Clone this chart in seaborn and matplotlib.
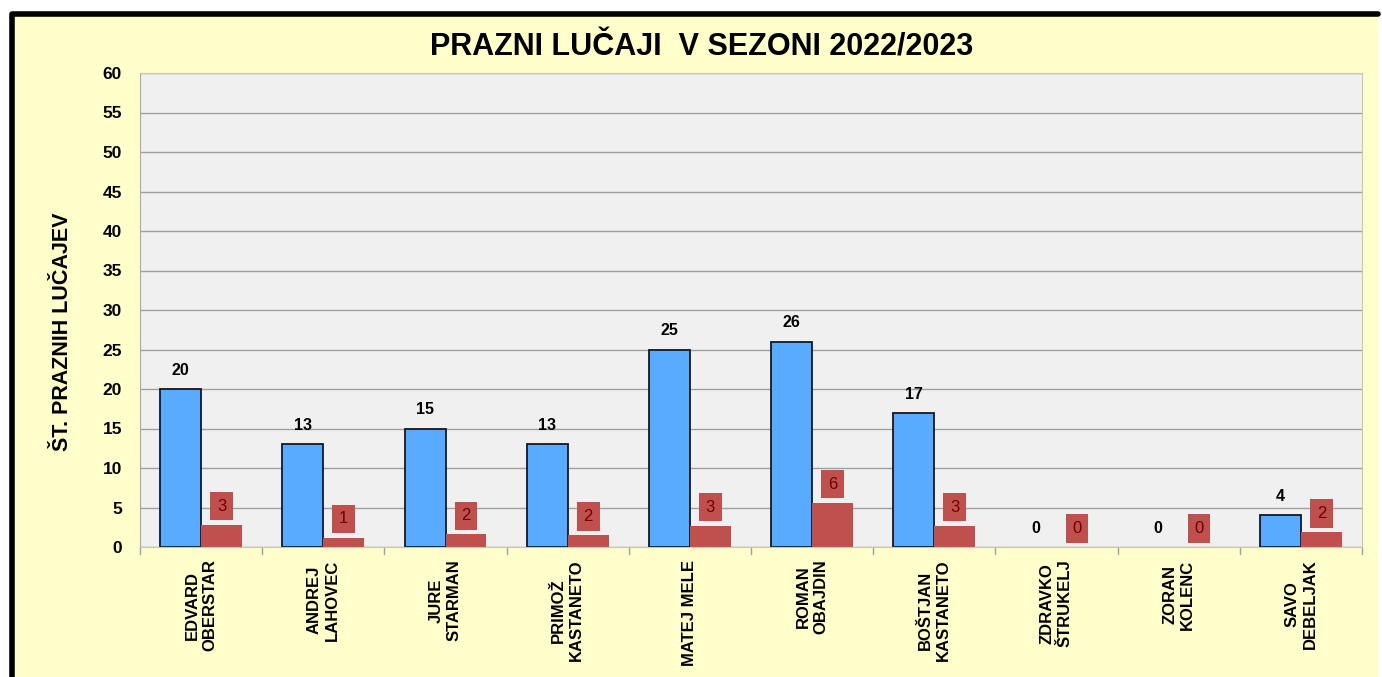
import matplotlib

matplotlib.use("Agg")

import matplotlib.pyplot as plt
import pandas as pd
import seaborn as sns
from matplotlib.patches import Rectangle

players = [
    "EDVARD\nOBERSTAR",
    "ANDREJ\nLAHOVEC",
    "JURE\nSTARMAN",
    "PRIMOŽ\nKASTANETO",
    "MATEJ MELE",
    "ROMAN\nOBAJDIN",
    "BOŠTJAN\nKASTANETO",
    "ZDRAVKO\nŠTRUKELJ",
    "ZORAN\nKOLENC",
    "SAVO\nDEBELJAK",
]
empty_throws = [20, 13, 15, 13, 25, 26, 17, 0, 0, 4]
empty_per_game = [2.8, 1.2, 1.6, 1.5, 2.7, 5.6, 2.7, 0, 0, 1.9]
series_names = ["skupaj", "povprečje"]
y_ticks = list(range(0, 61, 5))

BG = "#FFFFCC"
PLOT_BG = "#F0F0F0"
BLUE = "#59ABFF"
RED = "#C0504D"

df = pd.DataFrame(
    {
        "igralec": players * 2,
        "vrednost": empty_throws + empty_per_game,
        "serija": [series_names[0]] * len(players) + [series_names[1]] * len(players),
    }
)

sns.set_style("white")
plt.rcParams["font.family"] = ["Liberation Sans", "DejaVu Sans"]
plt.rcParams["text.color"] = "black"
plt.rcParams["xtick.color"] = "black"
plt.rcParams["ytick.color"] = "black"
plt.rcParams["axes.labelcolor"] = "black"

fig = plt.figure(figsize=(13.82, 6.77), dpi=100, facecolor="white")
# yellow chart area with thick black frame on top/left
fig.patches.append(
    Rectangle((12 / 1382, 0), 1366 / 1382, 1 - 14 / 677, transform=fig.transFigure,
              facecolor=BG, edgecolor="none", zorder=-2)
)
fig.lines.append(
    plt.Line2D([12 / 1382, 12 / 1382, 1378 / 1382], [0, 1 - 14 / 677, 1 - 14 / 677],
               transform=fig.transFigure, color="black", lw=4)
)

ax = fig.add_axes([140 / 1382, 1 - 547 / 677, (1362 - 140) / 1382, (547 - 73) / 677])
ax.set_facecolor(PLOT_BG)

sns.barplot(
    data=df, x="igralec", y="vrednost", hue="serija", ax=ax,
    palette=[BLUE, RED], width=0.67, dodge=True, legend=False,
    saturation=1, errorbar=None,
)

n = len(players)
for i, p in enumerate(ax.patches[:n]):
    if empty_throws[i] > 0:
        p.set_edgecolor("#101828")
        p.set_linewidth(1.3)
    else:
        p.set_edgecolor("none")
    x = p.get_x() + p.get_width() / 2
    ax.annotate(
        f"{empty_throws[i]}", (x, p.get_height()), xytext=(0, 8),
        textcoords="offset points", ha="center", va="bottom",
        fontsize=11.5, fontweight="bold", color="black",
    )
for i, p in enumerate(ax.patches[n:2 * n]):
    p.set_edgecolor("none")
    x = p.get_x() + p.get_width() / 2
    ax.annotate(
        f"{empty_per_game[i]:.0f}", (x, p.get_height()), xytext=(0, 8),
        textcoords="offset points", ha="center", va="bottom",
        fontsize=12, color="#6E0000",
        bbox=dict(boxstyle="square,pad=0.4", facecolor=RED, edgecolor="none"),
    )

ax.set_ylim(0, 60)
ax.set_yticks(y_ticks)
ax.set_xlim(-0.5, n - 0.5)
ax.yaxis.grid(True, color="#A0A0A0", lw=1)
ax.set_axisbelow(True)

for side in ["top", "right"]:
    ax.spines[side].set_color("#C8C8B0")
ax.spines["left"].set_color("#A8A8A8")
ax.spines["bottom"].set_color("#C8C8B0")

ax.tick_params(axis="y", length=5, color="#A0A0A0", labelsize=12.5, pad=8)
ax.tick_params(axis="x", length=0, labelsize=12, pad=9)
for lbl in ax.get_yticklabels():
    lbl.set_fontweight("bold")
ax.set_xticks(range(n))
ax.set_xticklabels(players, rotation=90, fontweight="bold", linespacing=1.25)
# category separator ticks
for k in range(n + 1):
    ax.plot([k - 0.5, k - 0.5], [0, -0.9], color="#A0A0A0", lw=1, clip_on=False)

ax.set_xlabel("")
ax.set_ylabel("ŠT. PRAZNIH LUČAJEV", fontsize=15.5, fontweight="bold")
ax.yaxis.set_label_coords(-0.055, 0.455)
fig.text(0.508, 1 - 47 / 677, "PRAZNI LUČAJI  V SEZONI 2022/2023",
         ha="center", va="center", fontsize=22, fontweight="bold")

fig.savefig("out.png", dpi=100, facecolor="white")
plt.close(fig)
